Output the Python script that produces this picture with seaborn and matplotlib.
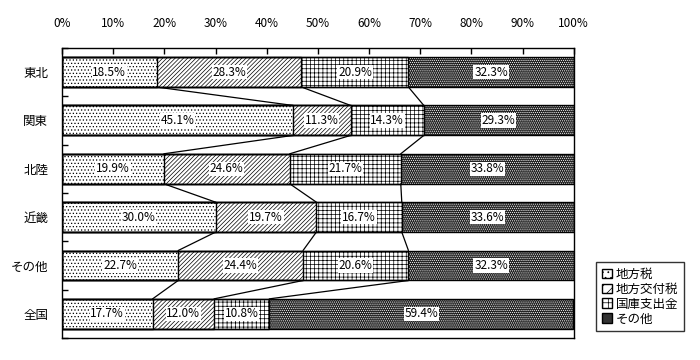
import numpy as np
import pandas as pd
import matplotlib
matplotlib.use('Agg')
import matplotlib.pyplot as plt
import matplotlib.patches as mpatches
import seaborn as sns

regions = ['東北', '関東', '北陸', '近畿', 'その他', '全国']
series_names = ['地方税', '地方交付税', '国庫支出金', 'その他']
local_tax = [18.5, 45.1, 19.9, 30.0, 22.7, 17.7]
alloc_tax = [28.3, 11.3, 24.6, 19.7, 24.4, 12.0]
treasury = [20.9, 14.3, 21.7, 16.7, 20.6, 10.8]
other = [32.3, 29.3, 33.8, 33.6, 32.3, 59.4]

sns.set_theme(style='white')
plt.rcParams['font.family'] = ['Noto Sans CJK JP', 'DejaVu Sans']
plt.rcParams['hatch.linewidth'] = 0.5
plt.rcParams['text.color'] = 'black'
plt.rcParams['xtick.color'] = 'black'
plt.rcParams['ytick.color'] = 'black'

df = pd.DataFrame({'region': regions, 'a': local_tax, 'b': alloc_tax,
                   'c': treasury, 'd': other})
parts = ['a', 'b', 'c', 'd']
cum = df[parts].cumsum(axis=1)
starts = cum.shift(axis=1).fillna(0)
cum['region'] = regions

fig = plt.figure(figsize=(7, 3.6), dpi=100)
ax = fig.add_axes([0.0886, 0.061, 0.731, 0.806])

W = 0.62
styles = [
    dict(color='white', hatch='.....', edgecolor='black'),
    dict(color='white', hatch='////////', edgecolor='black'),
    dict(color='white', hatch='++++', edgecolor='black'),
    dict(color='#222222', hatch='........', edgecolor='white'),
]

# overlay cumulative bars, widest first
for key, st in reversed(list(zip(parts, styles))):
    sns.barplot(data=cum, x=key, y='region', orient='h',
                color=st['color'], saturation=1, hatch=st['hatch'],
                edgecolor=st['edgecolor'], linewidth=0, width=W, ax=ax)

# black outlines on every segment boundary
for key in parts:
    sns.barplot(data=cum, x=key, y='region', orient='h',
                fill=False, color='black', linewidth=1.0, width=W, ax=ax)

# series connector lines
for key in parts[:-1]:
    vals = cum[key].values
    for i in range(len(regions) - 1):
        ax.plot([vals[i], vals[i + 1]], [i + W / 2, i + 1 - W / 2],
                color='black', lw=0.9)

# value labels
for key in parts:
    for i in range(len(regions)):
        v = df[key].iloc[i]
        xc = starts[key].iloc[i] + v / 2
        ax.text(xc, i, f'{v:.1f}%', ha='center', va='center', fontsize=8.5,
                color='black',
                bbox=dict(facecolor='white', edgecolor='none', pad=0.5))

ax.set_xlim(0, 100)
ax.set_ylim(len(regions) - 0.5, -0.5)
ax.set_xticks(np.arange(0, 101, 10))
ax.set_xticklabels([f'{t}%' for t in range(0, 101, 10)])
ax.xaxis.tick_top()
ax.tick_params(axis='x', direction='in', length=4, width=1, pad=13,
               labelsize=8.5, colors='black', top=True, bottom=False)
ax.set_yticks(np.arange(len(regions)))
ax.set_yticklabels(regions)
ax.tick_params(axis='y', length=0, pad=10, labelsize=9, labelcolor='black')
ax.set_yticks(np.arange(len(regions) + 1) - 0.5, minor=True)
ax.tick_params(axis='y', which='minor', direction='in', length=4, width=1,
               left=True, color='black')
ax.set_xlabel('')
ax.set_ylabel('')
for s in ax.spines.values():
    s.set_color('black')
    s.set_linewidth(1)

handles = [mpatches.Patch(facecolor=st['color'], hatch=st['hatch'][:3],
                          edgecolor='black', label=n)
           for st, n in zip(styles, series_names)]
handles[3] = mpatches.Patch(facecolor='#333333', edgecolor='black',
                            label=series_names[3])
leg = fig.legend(handles=handles, loc='lower left',
                 bbox_to_anchor=(0.843, 0.063), fontsize=9, frameon=True,
                 fancybox=False, edgecolor='black', handlelength=0.8,
                 handleheight=0.8, handletextpad=0.3, labelspacing=0.15,
                 borderpad=0.45)
leg.get_frame().set_linewidth(1)

fig.savefig('out.png', dpi=100)
